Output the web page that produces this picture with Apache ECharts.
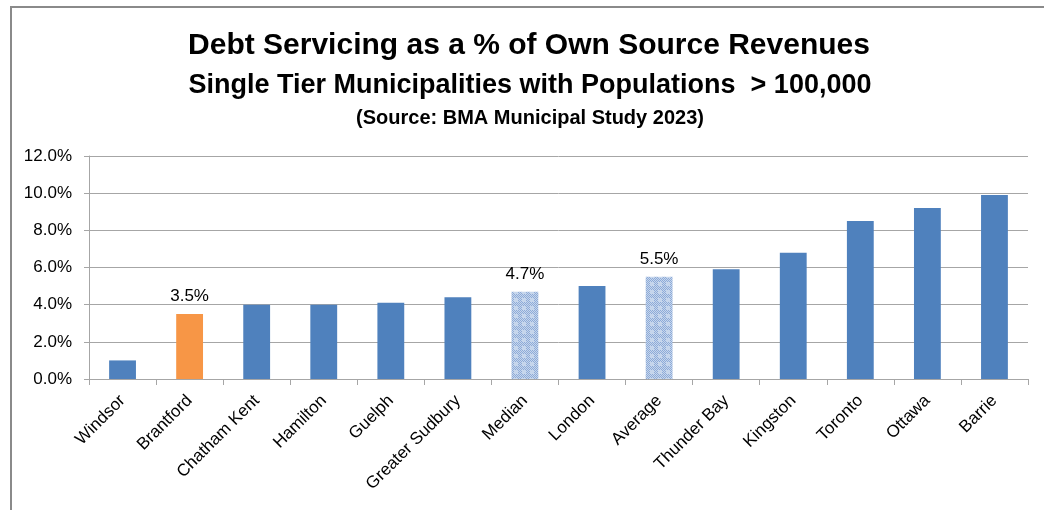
<!DOCTYPE html>
<html>
<head>
<meta charset="utf-8">
<script src="https://cdn.jsdelivr.net/npm/echarts@6/dist/echarts.min.js"></script>
<style>
  html, body { margin: 0; padding: 0; background: #fff; }
  #chart { width: 1044px; height: 510px; }
</style>
</head>
<body>
<div id="chart"></div>
<script>
// Municipalities, ordered by debt servicing ratio
const categories = ['Windsor', 'Brantford', 'Chatham Kent', 'Hamilton', 'Guelph', 'Greater Sudbury',
  'Median', 'London', 'Average', 'Thunder Bay', 'Kingston', 'Toronto', 'Ottawa', 'Barrie'];
// Debt servicing as % of own source revenues
const values = [1.0, 3.5, 4.0, 4.0, 4.1, 4.4, 4.7, 5.0, 5.5, 5.9, 6.8, 8.5, 9.2, 9.9];
// Bars that carry a value label
const labelled = ['Brantford', 'Median', 'Average'];
// Summary bars drawn with a dotted fill
const summaryBars = ['Median', 'Average'];
const highlight = 'Brantford';

const titleLines = [
  'Debt Servicing as a % of Own Source Revenues',
  'Single Tier Municipalities with Populations  > 100,000',
  '(Source: BMA Municipal Study 2023)'
];

// Small dotted tile for the summary bars
function dottedPattern() {
  const c = document.createElement('canvas');
  c.width = 8; c.height = 8;
  const ctx = c.getContext('2d');
  ctx.fillStyle = '#c6d6ec';
  ctx.fillRect(0, 0, 8, 8);
  ctx.fillStyle = '#8eabd8';
  for (let y = 0; y < 8; y++) {
    for (let x = 0; x < 8; x++) {
      const cx = x - 3.5, cy = y - 3.5;
      const nearCentre = cx * cx + cy * cy < 5;
      if ((x + y) % 2 === 0 && !nearCentre) ctx.fillRect(x, y, 1, 1);
    }
  }
  return c;
}
const pattern = { image: dottedPattern(), repeat: 'repeat' };

const barData = categories.map((name, i) => {
  let color = '#4f81bd';
  if (name === highlight) color = '#f79646';
  if (summaryBars.includes(name)) color = pattern;
  return {
    value: values[i],
    itemStyle: { color: color },
    label: { show: labelled.includes(name) }
  };
});

const font = '"Liberation Sans", Arial, sans-serif';
const chart = echarts.init(document.getElementById('chart'), null, { renderer: 'canvas' });
chart.setOption({
  animation: false,
  backgroundColor: '#ffffff',
  grid: { left: 89, right: 16, top: 156, bottom: 131, containLabel: false },
  graphic: [
    { type: 'rect', shape: { x: 11, y: 7, width: 1100, height: 600 },
      style: { fill: 'none', stroke: '#8a8a8a', lineWidth: 2 }, silent: true, z: -1 },
    { type: 'text', x: 529, y: 46, style: { text: titleLines[0], textAlign: 'center', textVerticalAlign: 'middle',
      font: 'bold 30px ' + font, fill: '#000' } },
    { type: 'text', x: 530, y: 86, style: { text: titleLines[1], textAlign: 'center', textVerticalAlign: 'middle',
      font: 'bold 27px ' + font, fill: '#000' } },
    { type: 'text', x: 530, y: 118, style: { text: titleLines[2], textAlign: 'center', textVerticalAlign: 'middle',
      font: 'bold 20px ' + font, fill: '#000' } }
  ],
  xAxis: {
    type: 'category',
    data: categories,
    axisLine: { lineStyle: { color: '#a6a6a6', width: 1 } },
    axisTick: { show: true, length: 6, lineStyle: { color: '#a6a6a6' } },
    axisLabel: { rotate: 45, margin: 19, fontSize: 17, fontFamily: font, color: '#000', interval: 0 }
  },
  yAxis: {
    type: 'value',
    min: 0, max: 12, interval: 2,
    axisLine: { show: true, lineStyle: { color: '#a6a6a6', width: 1 } },
    axisTick: { show: true, length: 5, lineStyle: { color: '#a6a6a6' } },
    splitLine: { lineStyle: { color: '#a6a6a6', width: 1 } },
    axisLabel: { margin: 17, fontSize: 17, fontFamily: font, color: '#000',
      formatter: v => v.toFixed(1) + '%' }
  },
  series: [{
    type: 'bar',
    data: barData,
    barWidth: '40%',
    label: { position: 'top', distance: 9, fontSize: 17, fontFamily: font, color: '#000',
      formatter: p => p.value.toFixed(1) + '%' }
  }]
});
</script>
</body>
</html>
